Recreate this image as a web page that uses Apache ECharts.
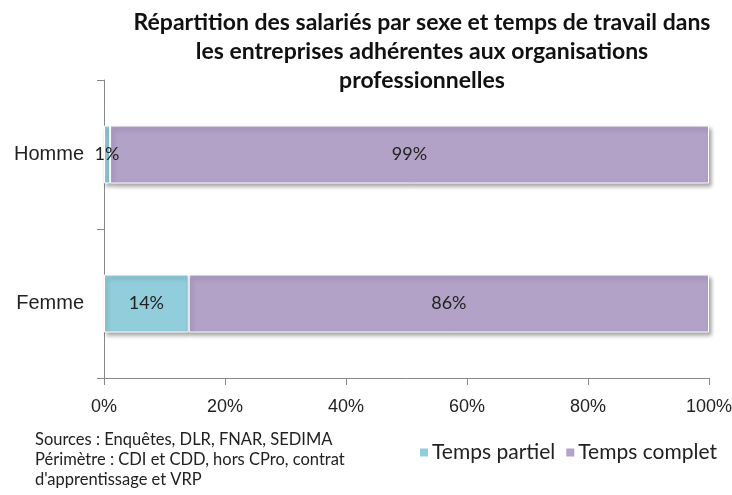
<!DOCTYPE html>
<html>
<head>
<meta charset="utf-8">
<script src="https://cdn.jsdelivr.net/npm/echarts@6/dist/echarts.min.js"></script>
<style>
  html, body { margin: 0; padding: 0; background: #fff; }
  #chart { width: 732px; height: 495px; }
</style>
</head>
<body>
<div id="chart"></div>
<script>
// Catégories et parts (en %) par temps de travail
const categories = ['Homme', 'Femme'];
const tempsPartiel = [1, 14];
const tempsComplet = [99, 86];
const xTicks = [0, 20, 40, 60, 80, 100];

const FONT = 'Lato, "Open Sans", sans-serif';
const AXIS_FONT = '"Liberation Sans", Arial, sans-serif';

const chart = echarts.init(document.getElementById('chart'));

const barStyle = (color) => ({
  color: color,
  borderColor: '#ffffff',
  borderWidth: 1,
  shadowColor: 'rgba(0,0,0,0.35)',
  shadowBlur: 4,
  shadowOffsetX: 2,
  shadowOffsetY: 3
});

const labelStyle = {
  show: true,
  position: 'inside',
  formatter: (p) => p.value + '%',
  color: '#222',
  fontFamily: FONT,
  fontSize: 18
};

chart.setOption({
  animation: false,
  color: ['#92CDDC', '#B3A2C7'],
  title: {
    text: 'Répartition des salariés par sexe et temps de travail dans\nles entreprises adhérentes aux organisations\nprofessionnelles',
    left: 417,
    textAlign: 'center',
    top: 3,
    textStyle: {
      fontFamily: FONT,
      fontWeight: 'bold',
      fontSize: 23,
      lineHeight: 29,
      color: '#111'
    }
  },
  legend: {
    right: 10,
    top: 437,
    icon: 'rect',
    itemWidth: 10,
    itemHeight: 10,
    itemGap: 9,
    textStyle: { fontFamily: FONT, fontSize: 21, color: '#222', padding: [0, 0, 0, -2] },
    data: ['Temps partiel', 'Temps complet']
  },
  grid: { left: 104, right: 23, top: 80, bottom: 117, outerBoundsMode: 'none', containLabel: false },
  xAxis: {
    type: 'value',
    min: xTicks[0],
    max: xTicks[xTicks.length - 1],
    interval: 20,
    axisLine: { show: true, lineStyle: { color: '#888' } },
    axisTick: { show: true, length: 7, lineStyle: { color: '#888' } },
    splitLine: { show: false },
    axisLabel: {
      formatter: (v) => v + '%',
      fontFamily: AXIS_FONT,
      fontSize: 18,
      color: '#222',
      margin: 20
    }
  },
  yAxis: {
    type: 'category',
    inverse: true,
    data: categories,
    axisLine: { show: true, lineStyle: { color: '#888' } },
    axisTick: { show: true, length: 7, lineStyle: { color: '#888' } },
    axisLabel: { fontFamily: AXIS_FONT, fontSize: 20, color: '#222', margin: 20 }
  },
  series: [
    {
      name: 'Temps partiel',
      type: 'bar',
      stack: 'total',
      barWidth: 58,
      data: tempsPartiel,
      itemStyle: barStyle('#92CDDC'),
      label: labelStyle
    },
    {
      name: 'Temps complet',
      type: 'bar',
      stack: 'total',
      barWidth: 58,
      data: tempsComplet,
      itemStyle: barStyle('#B3A2C7'),
      label: labelStyle
    }
  ],
  graphic: [
    {
      type: 'text',
      left: 35,
      top: 430,
      style: {
        text: 'Sources : Enquêtes, DLR, FNAR, SEDIMA\nPérimètre : CDI et CDD, hors CPro, contrat\nd\'apprentissage et VRP',
        fontFamily: FONT,
        fontSize: 16.5,
        lineHeight: 20,
        fill: '#222'
      }
    }
  ]
});
</script>
</body>
</html>
